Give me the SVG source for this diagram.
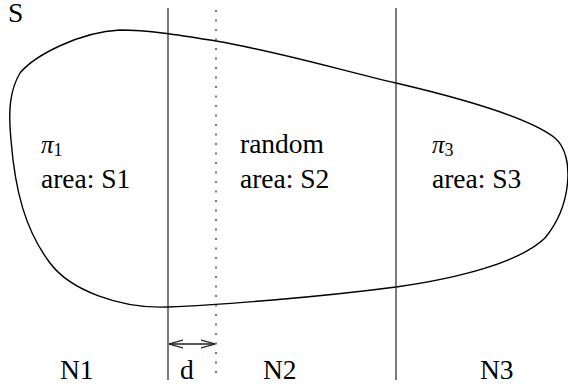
<svg xmlns="http://www.w3.org/2000/svg" width="568" height="390" viewBox="0 0 568 390">
<style>
text { font-family: "Liberation Serif", "Times New Roman", serif; font-size: 27.5px; fill: #000; }
.pi { font-style: italic; font-size: 25px; }
.sub { font-size: 18px; }
.vline { stroke: #222; stroke-width: 1.2; fill: none; }
.dotted { stroke: #222; stroke-width: 1.2; stroke-dasharray: 2 7.5; fill: none; }
.region { stroke: #000; stroke-width: 1.4; fill: none; }
.dim { stroke: #222; stroke-width: 1.3; fill: none; }
</style>
<defs>
<marker id="open" viewBox="0 0 14 10" refX="14" refY="5" markerWidth="14" markerHeight="10" markerUnits="userSpaceOnUse" orient="auto-start-reverse">
<path d="M0,1 L14,5 L0,9" fill="none" stroke="#222" stroke-width="1.3"/>
</marker>
</defs>
<g id="set-S">
<path class="region" d="M 120 30 C 150 30, 185 36, 216 41 C 280 52, 340 70, 396 83 C 460 98, 530 118, 555 138 C 575 155, 572 205, 545 238 C 520 262, 460 278, 396 287 C 320 297, 220 305, 168 307 C 120 309, 70 290, 50 263 C 25 230, 15 190, 11 140 C 8 110, 10 90, 20 73 C 35 55, 80 32, 120 30 Z"/>
<text x="8" y="22">S</text>
</g>
<g id="connectors">
<line class="vline" x1="168" y1="8" x2="168" y2="380"/>
<line class="dotted" x1="216" y1="10" x2="216" y2="380"/>
<line class="vline" x1="396" y1="8" x2="396" y2="380"/>
<line class="dim" x1="169" y1="344" x2="215" y2="344" marker-start="url(#open)" marker-end="url(#open)"/>
</g>
<g id="region-1">
<text x="41" y="153"><tspan class="pi">π</tspan><tspan class="sub" dy="3">1</tspan></text>
<text x="41" y="188">area: S1</text>
</g>
<g id="region-2">
<text x="240" y="153">random</text>
<text x="240" y="188">area: S2</text>
</g>
<g id="region-3">
<text x="432" y="153"><tspan class="pi">π</tspan><tspan class="sub" dy="3">3</tspan></text>
<text x="432" y="188">area: S3</text>
</g>
<g id="labels">
<text x="60" y="379">N1</text>
<text x="180" y="379">d</text>
<text x="263" y="379">N2</text>
<text x="480" y="379">N3</text>
</g>
</svg>
